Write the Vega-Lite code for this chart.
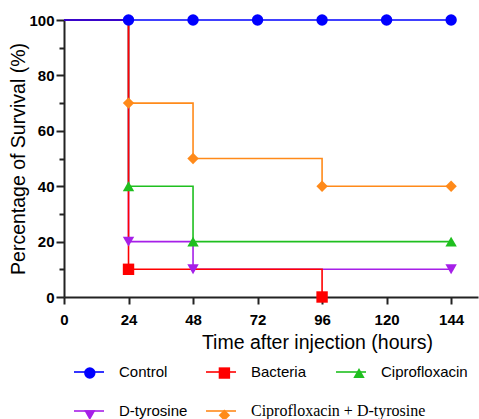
{
  "$schema": "https://vega.github.io/schema/vega-lite/v6.json",
  "width": 414,
  "height": 277,
  "autosize": "none",
  "padding": {"left": 64, "top": 20, "right": 1, "bottom": 122},
  "background": "white",
  "config": {
    "view": {"stroke": null},
    "legend": {"symbolType": "stroke", "symbolSize": 900, "symbolStrokeWidth": 1.6, "labelOffset": 14, "labelFont": "Liberation Sans", "labelFontSize": 15, "labelColor": "#000", "labelLimit": 400, "padding": 0, "orient": "none", "direction": "horizontal"}
  },
  "data": {
    "values": [
      {"group": "Ciprofloxacin + D-tyrosine", "time": 0, "survival": 100},
      {"group": "Ciprofloxacin + D-tyrosine", "time": 24, "survival": 70},
      {"group": "Ciprofloxacin + D-tyrosine", "time": 48, "survival": 50},
      {"group": "Ciprofloxacin + D-tyrosine", "time": 96, "survival": 40},
      {"group": "Ciprofloxacin + D-tyrosine", "time": 144, "survival": 40},
      {"group": "Ciprofloxacin", "time": 0, "survival": 100},
      {"group": "Ciprofloxacin", "time": 24, "survival": 40},
      {"group": "Ciprofloxacin", "time": 48, "survival": 20},
      {"group": "Ciprofloxacin", "time": 144, "survival": 20},
      {"group": "D-tyrosine", "time": 0, "survival": 100},
      {"group": "D-tyrosine", "time": 24, "survival": 20},
      {"group": "D-tyrosine", "time": 48, "survival": 10},
      {"group": "D-tyrosine", "time": 144, "survival": 10},
      {"group": "Bacteria", "time": 0, "survival": 100},
      {"group": "Bacteria", "time": 24, "survival": 10},
      {"group": "Bacteria", "time": 96, "survival": 0},
      {"group": "Control", "time": 0, "survival": 100},
      {"group": "Control", "time": 24, "survival": 100},
      {"group": "Control", "time": 48, "survival": 100},
      {"group": "Control", "time": 72, "survival": 100},
      {"group": "Control", "time": 96, "survival": 100},
      {"group": "Control", "time": 120, "survival": 100},
      {"group": "Control", "time": 144, "survival": 100}
    ]
  },
  "encoding": {
    "x": {
      "field": "time", "type": "quantitative",
      "scale": {"domain": [0, 154], "nice": false, "zero": false},
      "axis": {
        "values": [0, 24, 48, 72, 96, 120, 144],
        "title": "Time after injection (hours)",
        "titleFont": "Liberation Sans", "titleFontSize": 19.5, "titleFontWeight": "normal", "titleColor": "#000",
        "titleX": 253, "titleAnchor": "start", "titleAlign": "center", "titlePadding": 6,
        "labelFont": "Liberation Sans", "labelFontSize": 15, "labelFontWeight": "bold", "labelColor": "#000",
        "labelPadding": 8, "labelFlush": false, "labelOverlap": false,
        "grid": false, "tickSize": 7, "tickWidth": 2, "tickColor": "#222",
        "domainColor": "#222", "domainWidth": 2
      }
    },
    "y": {
      "field": "survival", "type": "quantitative",
      "scale": {"domain": [0, 100], "nice": false},
      "axis": {
        "values": [0, 10, 20, 30, 40, 50, 60, 70, 80, 90, 100],
        "labelExpr": "datum.value % 20 === 0 ? datum.label : ''",
        "tickSize": {"condition": {"test": "datum.value % 20 === 0", "value": 8}, "value": 5},
        "title": "Percentage of Survival (%)",
        "titleFont": "Liberation Sans", "titleFontSize": 19.5, "titleFontWeight": "normal", "titleColor": "#000",
        "titlePadding": 0,
        "labelFont": "Liberation Sans", "labelFontSize": 15, "labelFontWeight": "bold", "labelColor": "#000",
        "labelPadding": 2, "labelFlush": false, "labelOverlap": false,
        "grid": false, "tickWidth": 2, "tickColor": "#222",
        "domainColor": "#222", "domainWidth": 2
      }
    },
    "color": {
      "field": "group", "type": "nominal",
      "scale": {
        "domain": ["Control", "Bacteria", "Ciprofloxacin", "D-tyrosine", "Ciprofloxacin + D-tyrosine"],
        "range": ["#0000FF", "#FF0000", "#1FBF1F", "#A61FE8", "#FF8A1A"]
      }
    }
  },
  "layer": [
    {
      "mark": {"type": "line", "interpolate": "step-after", "strokeWidth": 1.6},
      "encoding": {
        "color": {
          "field": "group", "type": "nominal",
          "legend": {"values": ["Control"], "legendX": 9, "legendY": 336, "title": null}
        }
      }
    },
    {
      "transform": [{"filter": "datum.time < 0"}],
      "mark": {"type": "line", "strokeWidth": 1.6},
      "encoding": {
        "color": {
          "field": "group", "type": "nominal",
          "legend": {"values": ["Bacteria"], "legendX": 141, "legendY": 336, "title": null}
        }
      }
    },
    {
      "transform": [{"filter": "datum.time < 0"}],
      "mark": {"type": "line", "strokeWidth": 1.6},
      "encoding": {
        "color": {
          "field": "group", "type": "nominal",
          "legend": {"values": ["Ciprofloxacin"], "legendX": 271, "legendY": 336, "title": null}
        }
      }
    },
    {
      "transform": [{"filter": "datum.time < 0"}],
      "mark": {"type": "line", "strokeWidth": 1.6},
      "encoding": {
        "color": {
          "field": "group", "type": "nominal",
          "legend": {"values": ["D-tyrosine"], "legendX": 9, "legendY": 375, "title": null}
        }
      }
    },
    {
      "transform": [{"filter": "datum.time < 0"}],
      "mark": {"type": "line", "strokeWidth": 1.6},
      "encoding": {
        "color": {
          "field": "group", "type": "nominal",
          "legend": {"values": ["Ciprofloxacin + D-tyrosine"], "legendX": 141, "legendY": 375, "title": null, "labelFont": "Liberation Serif", "labelFontSize": 16}
        }
      }
    },
    {
      "transform": [{"filter": "datum.time > 0"}],
      "mark": {"type": "point", "filled": true, "size": 130, "opacity": 1},
      "encoding": {
        "shape": {
          "field": "group", "type": "nominal",
          "scale": {
            "domain": ["Control", "Bacteria", "Ciprofloxacin", "D-tyrosine", "Ciprofloxacin + D-tyrosine"],
            "range": ["circle", "square", "triangle-up", "triangle-down", "diamond"]
          }
        },
        "color": {
          "field": "group", "type": "nominal",
          "legend": {
            "legendX": 18.3, "legendY": 345.3, "columns": 3,
            "gridAlign": "all", "columnPadding": 119.6, "rowPadding": 26.5, "title": null,
            "symbolType": "circle", "symbolSize": 130, "symbolStrokeWidth": 0, "symbolOpacity": 1,
            "labelOffset": 0, "labelExpr": "''"
          }
        }
      }
    }
  ],
  "resolve": {"legend": {"color": "independent", "shape": "independent"}}
}
